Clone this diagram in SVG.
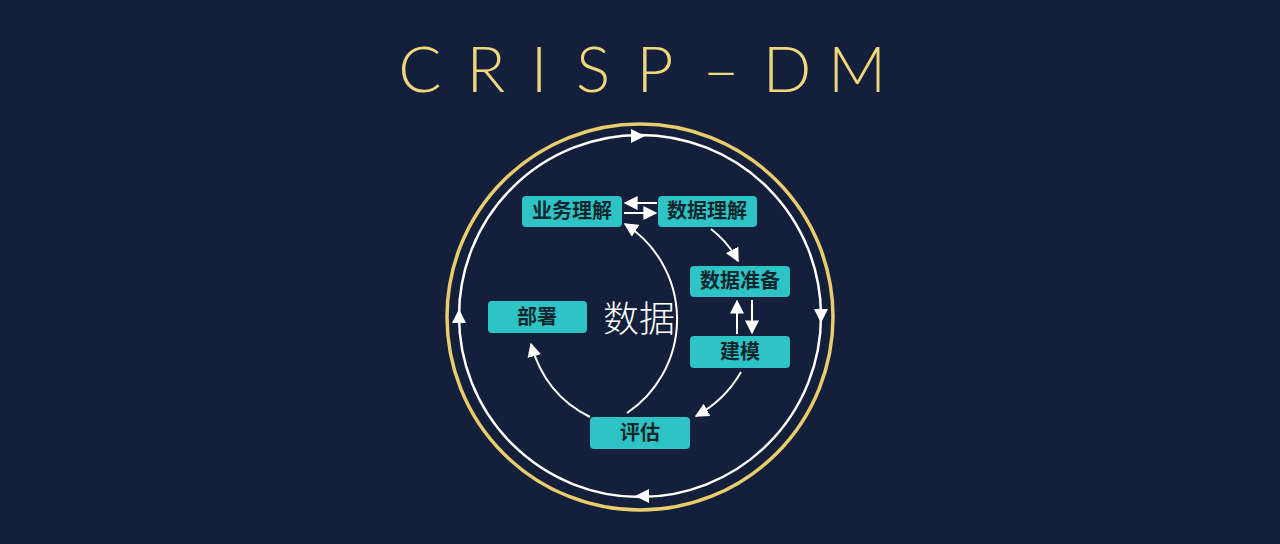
<svg xmlns="http://www.w3.org/2000/svg" width="1280" height="544" viewBox="0 0 1280 544">
<defs>
<style>
.bg{fill:#131f3b}
.box{fill:#2ec3c5}
.lbl{font-family:"Noto Sans CJK SC","Noto Sans",sans-serif;font-size:20px;font-weight:700;fill:#10262e;text-anchor:middle}
.con{fill:none;stroke:#ffffff;stroke-width:2}
.title{font-family:"Lato","Liberation Sans",sans-serif;font-weight:300;font-size:64px;fill:#f0d77c;text-anchor:middle}
</style>
<marker id="ah" viewBox="0 0 10 10" refX="9" refY="5" markerWidth="7" markerHeight="7" orient="auto">
<path d="M0,0 L10,5 L0,10 z" fill="#ffffff"/>
</marker>
</defs>
<rect class="bg" x="0" y="0" width="1280" height="544"/>
<text class="title" x="420 486 539 593 655 721 787 857" y="92">CRISP–DM</text>
<g id="rings">
<circle cx="640" cy="317" r="193" fill="none" stroke="#e9cc6b" stroke-width="3.5"/>
<circle cx="640" cy="316" r="181" fill="none" stroke="#ffffff" stroke-width="2.5"/>
<polygon points="645,136 631,129 631,143" fill="#ffffff"/>
<polygon points="821,323 814,309 828,309" fill="#ffffff"/>
<polygon points="635,496 649,489 649,503" fill="#ffffff"/>
<polygon points="459,309 452,323 466,323" fill="#ffffff"/>
</g>
<text x="639" y="332" font-family="'Noto Sans CJK SC',sans-serif" font-size="36" font-weight="300" fill="#ffffff" text-anchor="middle">数据</text>
<g id="connectors">
<path class="con" d="M657,203 L625,203" marker-end="url(#ah)"/>
<path class="con" d="M624,213 L656,213" marker-end="url(#ah)"/>
<path class="con" d="M711,229 Q728,242 738,261" marker-end="url(#ah)"/>
<path class="con" d="M737,334 L737,301" marker-end="url(#ah)"/>
<path class="con" d="M752,300 L752,333" marker-end="url(#ah)"/>
<path class="con" d="M741,372 Q725,400 696,416" marker-end="url(#ah)"/>
<path class="con" d="M627,413 A113,113 0 0 0 625,224" marker-end="url(#ah)"/>
<path class="con" d="M590,417 Q545,395 531,344" marker-end="url(#ah)"/>
</g>
<g id="n1"><rect class="box" x="522" y="196" width="100" height="31" rx="4"/><text class="lbl" x="572" y="218">业务理解</text></g>
<g id="n2"><rect class="box" x="658" y="196" width="99" height="31" rx="4"/><text class="lbl" x="707" y="218">数据理解</text></g>
<g id="n3"><rect class="box" x="690" y="266" width="100" height="31" rx="4"/><text class="lbl" x="740" y="288">数据准备</text></g>
<g id="n4"><rect class="box" x="690" y="336" width="100" height="32" rx="4"/><text class="lbl" x="740" y="359">建模</text></g>
<g id="n5"><rect class="box" x="590" y="417" width="100" height="32" rx="4"/><text class="lbl" x="640" y="440">评估</text></g>
<g id="n6"><rect class="box" x="488" y="301" width="99" height="32" rx="4"/><text class="lbl" x="537" y="324">部署</text></g>
</svg>
